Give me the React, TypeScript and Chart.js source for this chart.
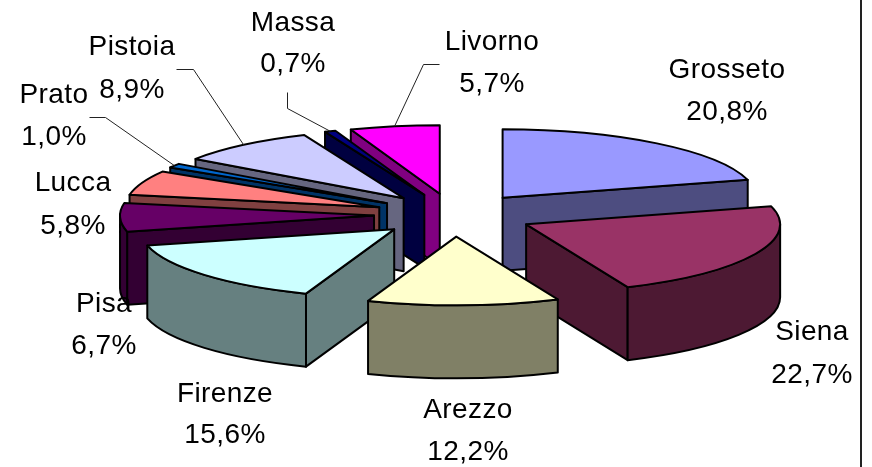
import React, { useEffect, useRef } from "react";
import { Chart, registerables } from "chart.js";

Chart.register(...registerables);

const categories = ["Grosseto", "Siena", "Arezzo", "Firenze", "Pisa", "Lucca", "Prato", "Pistoia", "Massa", "Livorno"];
const shares = [20.8, 22.7, 12.2, 15.6, 6.7, 5.8, 1.0, 8.9, 0.7, 5.7];
const shareLabels = ["20,8%", "22,7%", "12,2%", "15,6%", "6,7%", "5,8%", "1,0%", "8,9%", "0,7%", "5,7%"];
const topColors = ["#9999FF", "#993366", "#FFFFCC", "#CCFFFF", "#660066", "#FF8080", "#0066CC", "#CCCCFF", "#000080", "#FF00FF"];
const sideColors = ["#4D4D80", "#4D1933", "#808066", "#668080", "#330033", "#804040", "#003366", "#666680", "#000040", "#800080"];

const SQUASH = 0.27;
const DEPTH = 73;
const RADIUS = 254;
const EXPLODE = 80;
const FONT = '28px "Liberation Sans", Arial, sans-serif';

// Label placement: [centre x, first baseline, second baseline]
const labelPlacement: number[][] = [
  [727, 78, 120],
  [812, 340, 383],
  [468, 418, 460],
  [225, 402, 443],
  [104, 312, 354],
  [73, 191, 234],
  [54, 103, 145],
  [132, 55, 98],
  [293, 31, 72],
  [492, 50, 92],
];
// Leader elbows: category index -> [label end x, y, elbow x, y]
const leaders: Record<number, number[]> = {
  6: [89, 117, 105, 117],
  7: [176, 69, 193, 69],
  8: [287, 92, 287, 108],
  9: [439, 64, 423, 64],
};

const pie3d = {
  id: "pie3d",
  beforeDatasetDraw(chart: any, args: any) {
    const ctx: CanvasRenderingContext2D = chart.ctx;
    const arcs: any[] = args.meta.data;
    const geo = arcs.map((el, i) => {
      const p = el.getProps(["x", "y", "startAngle", "endAngle", "outerRadius"], true);
      const mid = (p.startAngle + p.endAngle) / 2;
      const d = (el.options.offset || 0) / 2;
      const r = p.outerRadius;
      const X = p.x + d * Math.cos(mid);
      const Y = p.y + d * SQUASH * Math.sin(mid);
      return { i, X, Y, r, a0: p.startAngle, a1: p.endAngle, mid };
    });
    const order = [...geo].sort((a, b) => Math.sin(a.mid) - Math.sin(b.mid));
    ctx.save();
    ctx.lineWidth = 2;
    ctx.lineJoin = "round";
    ctx.strokeStyle = "#000";
    for (const g of order) {
      const pt = (a: number) => [g.X + g.r * Math.cos(a), g.Y + g.r * SQUASH * Math.sin(a)];
      ctx.fillStyle = sideColors[g.i];
      const cutWall = (a: number) => {
        const [x, y] = pt(a);
        ctx.beginPath();
        ctx.moveTo(g.X, g.Y);
        ctx.lineTo(x, y);
        ctx.lineTo(x, y + DEPTH);
        ctx.lineTo(g.X, g.Y + DEPTH);
        ctx.closePath();
        ctx.fill();
        ctx.stroke();
      };
      if (Math.cos(g.a0) < 0) cutWall(g.a0);
      if (Math.cos(g.a1) > 0) cutWall(g.a1);
      const lo = Math.max(g.a0, 0);
      const hi = Math.min(g.a1, Math.PI);
      if (hi > lo) {
        ctx.beginPath();
        ctx.ellipse(g.X, g.Y, g.r, g.r * SQUASH, 0, lo, hi);
        ctx.ellipse(g.X, g.Y + DEPTH, g.r, g.r * SQUASH, 0, hi, lo, true);
        ctx.closePath();
        ctx.fill();
        ctx.stroke();
      }
      ctx.fillStyle = topColors[g.i];
      ctx.beginPath();
      ctx.moveTo(g.X, g.Y);
      ctx.ellipse(g.X, g.Y, g.r, g.r * SQUASH, 0, g.a0, g.a1);
      ctx.closePath();
      ctx.fill();
      ctx.stroke();
    }

    // Leader lines end on the rim of their slice.
    ctx.lineWidth = 1;
    ctx.strokeStyle = "#222";
    for (const key of Object.keys(leaders)) {
      const idx = Number(key);
      const g = geo[idx];
      const [x0, y0, x1, y1] = leaders[idx];
      ctx.beginPath();
      ctx.moveTo(x0 + 0.5, y0 + 0.5);
      ctx.lineTo(x1 + 0.5, y1 + 0.5);
      ctx.lineTo(g.X + g.r * Math.cos(g.mid), g.Y + g.r * SQUASH * Math.sin(g.mid));
      ctx.stroke();
    }

    // Labels
    ctx.fillStyle = "#000";
    ctx.font = FONT;
    (ctx as any).letterSpacing = "0.4px";
    ctx.textAlign = "center";
    ctx.textBaseline = "alphabetic";
    categories.forEach((name, i) => {
      const [x, b1, b2] = labelPlacement[i];
      ctx.fillText(name, x, b1);
      ctx.fillText(shareLabels[i], x, b2);
    });

    // Right frame edge
    ctx.fillStyle = "#222";
    ctx.fillRect(860, 0, 2, chart.height);
    ctx.restore();
    return false;
  },
};

export default function App() {
  const ref = useRef<HTMLCanvasElement>(null);
  useEffect(() => {
    const chart = new Chart(ref.current!, {
      type: "pie",
      data: {
        labels: categories,
        datasets: [{ data: shares, backgroundColor: topColors, offset: EXPLODE * 2, borderWidth: 0 }],
      },
      options: {
        animation: false,
        responsive: false,
        radius: RADIUS,
        layout: { padding: { left: 36, right: 0, top: 0, bottom: 37 } },
        plugins: { legend: { display: false }, tooltip: { enabled: false } },
      } as any,
      plugins: [pie3d as any],
    });
    return () => chart.destroy();
  }, []);
  return (
    <canvas
      ref={ref}
      width={872}
      height={467}
      style={{ position: "absolute", left: 0, top: 0, width: 872, height: 467, background: "#fff", display: "block" }}
    />
  );
}
